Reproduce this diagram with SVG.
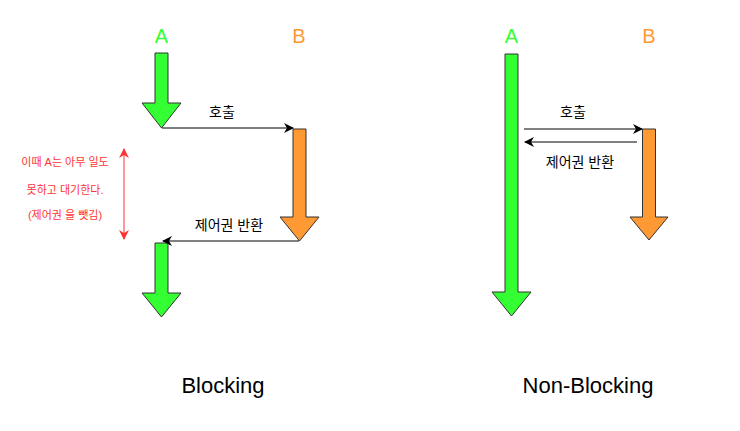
<svg xmlns="http://www.w3.org/2000/svg" width="740" height="431" viewBox="0 0 740 431">
<defs>
<style>
.ga{fill:#33ff33;stroke:#333;stroke-width:1}
.oa{fill:#ff9933;stroke:#333;stroke-width:1}
.conn{stroke:#000;stroke-width:1;fill:none}
.lbl{font-family:"Liberation Sans","Noto Sans CJK KR",sans-serif;font-size:14px;fill:#000;text-anchor:middle}
.red{font-family:"Liberation Sans","Noto Sans CJK KR",sans-serif;font-size:11px;fill:#ff3333;text-anchor:middle}
.hdA{font-family:"Liberation Sans",Arial,sans-serif;font-size:20px;fill:#33ff33;text-anchor:middle}
.hdB{font-family:"Liberation Sans",Arial,sans-serif;font-size:20px;fill:#ff9933;text-anchor:middle}
.title{font-family:"Liberation Sans",Arial,sans-serif;font-size:22px;fill:#000;text-anchor:middle}
</style>
<marker id="ah" viewBox="0 0 10 10" refX="9" refY="5" markerWidth="10" markerHeight="10" markerUnits="userSpaceOnUse" orient="auto">
<path d="M0,0 L10,5 L0,10 L3,5 Z" fill="#000"/>
</marker>
<marker id="rh" viewBox="0 0 10 10" refX="9" refY="5" markerWidth="10" markerHeight="10" markerUnits="userSpaceOnUse" orient="auto-start-reverse">
<path d="M0,0 L10,5 L0,10 L3,5 Z" fill="#ff3333"/>
</marker>
</defs>
<rect width="740" height="431" fill="#fff"/>

<g id="blocking">
<text class="hdA" x="161.5" y="43">A</text>
<text class="hdB" x="299" y="43">B</text>
<g id="a1"><polygon class="ga" points="155,53 168,53 168,103 181,103 161.5,128 142,103 155,103"/></g>
<g id="b1"><polygon class="oa" points="293,129 306,129 306,217 319,217 299.5,241 280,217 293,217"/></g>
<g id="a2"><polygon class="ga" points="155,243 168,243 168,293 181,293 161.5,317 142,293 155,293"/></g>
<g id="note">
<text class="red" x="65" y="166">이때 A는 아무 일도</text>
<text class="red" x="65" y="194">못하고 대기한다.</text>
<text class="red" x="65" y="219">(제어권 을 뺏김)</text>
<line x1="124" y1="149" x2="124" y2="239" stroke="#ff3333" stroke-width="1" marker-start="url(#rh)" marker-end="url(#rh)"/>
</g>
<text class="lbl" x="222" y="117">호출</text>
<text class="lbl" x="229" y="230">제어권 반환</text>
<text class="title" x="223" y="393">Blocking</text>
</g>

<g id="nonblocking">
<text class="hdA" x="511.5" y="43">A</text>
<text class="hdB" x="649" y="43">B</text>
<g id="a3"><polygon class="ga" points="505,54 518,54 518,292 531,292 511.5,316 492,292 505,292"/></g>
<g id="b2"><polygon class="oa" points="642.5,129 655.5,129 655.5,217 668,217 649,240 630,217 642.5,217"/></g>
<text class="lbl" x="573" y="117">호출</text>
<text class="lbl" x="580" y="167">제어권 반환</text>
<text class="title" x="588" y="393">Non-Blocking</text>
</g>

<g id="connectors">
<line class="conn" x1="162" y1="128" x2="293" y2="128" marker-end="url(#ah)"/>
<line class="conn" x1="299" y1="241" x2="163" y2="241" marker-end="url(#ah)"/>
<line class="conn" x1="524" y1="129" x2="642" y2="129" marker-end="url(#ah)"/>
<line class="conn" x1="637" y1="142" x2="525" y2="142" marker-end="url(#ah)"/>
</g>
</svg>
